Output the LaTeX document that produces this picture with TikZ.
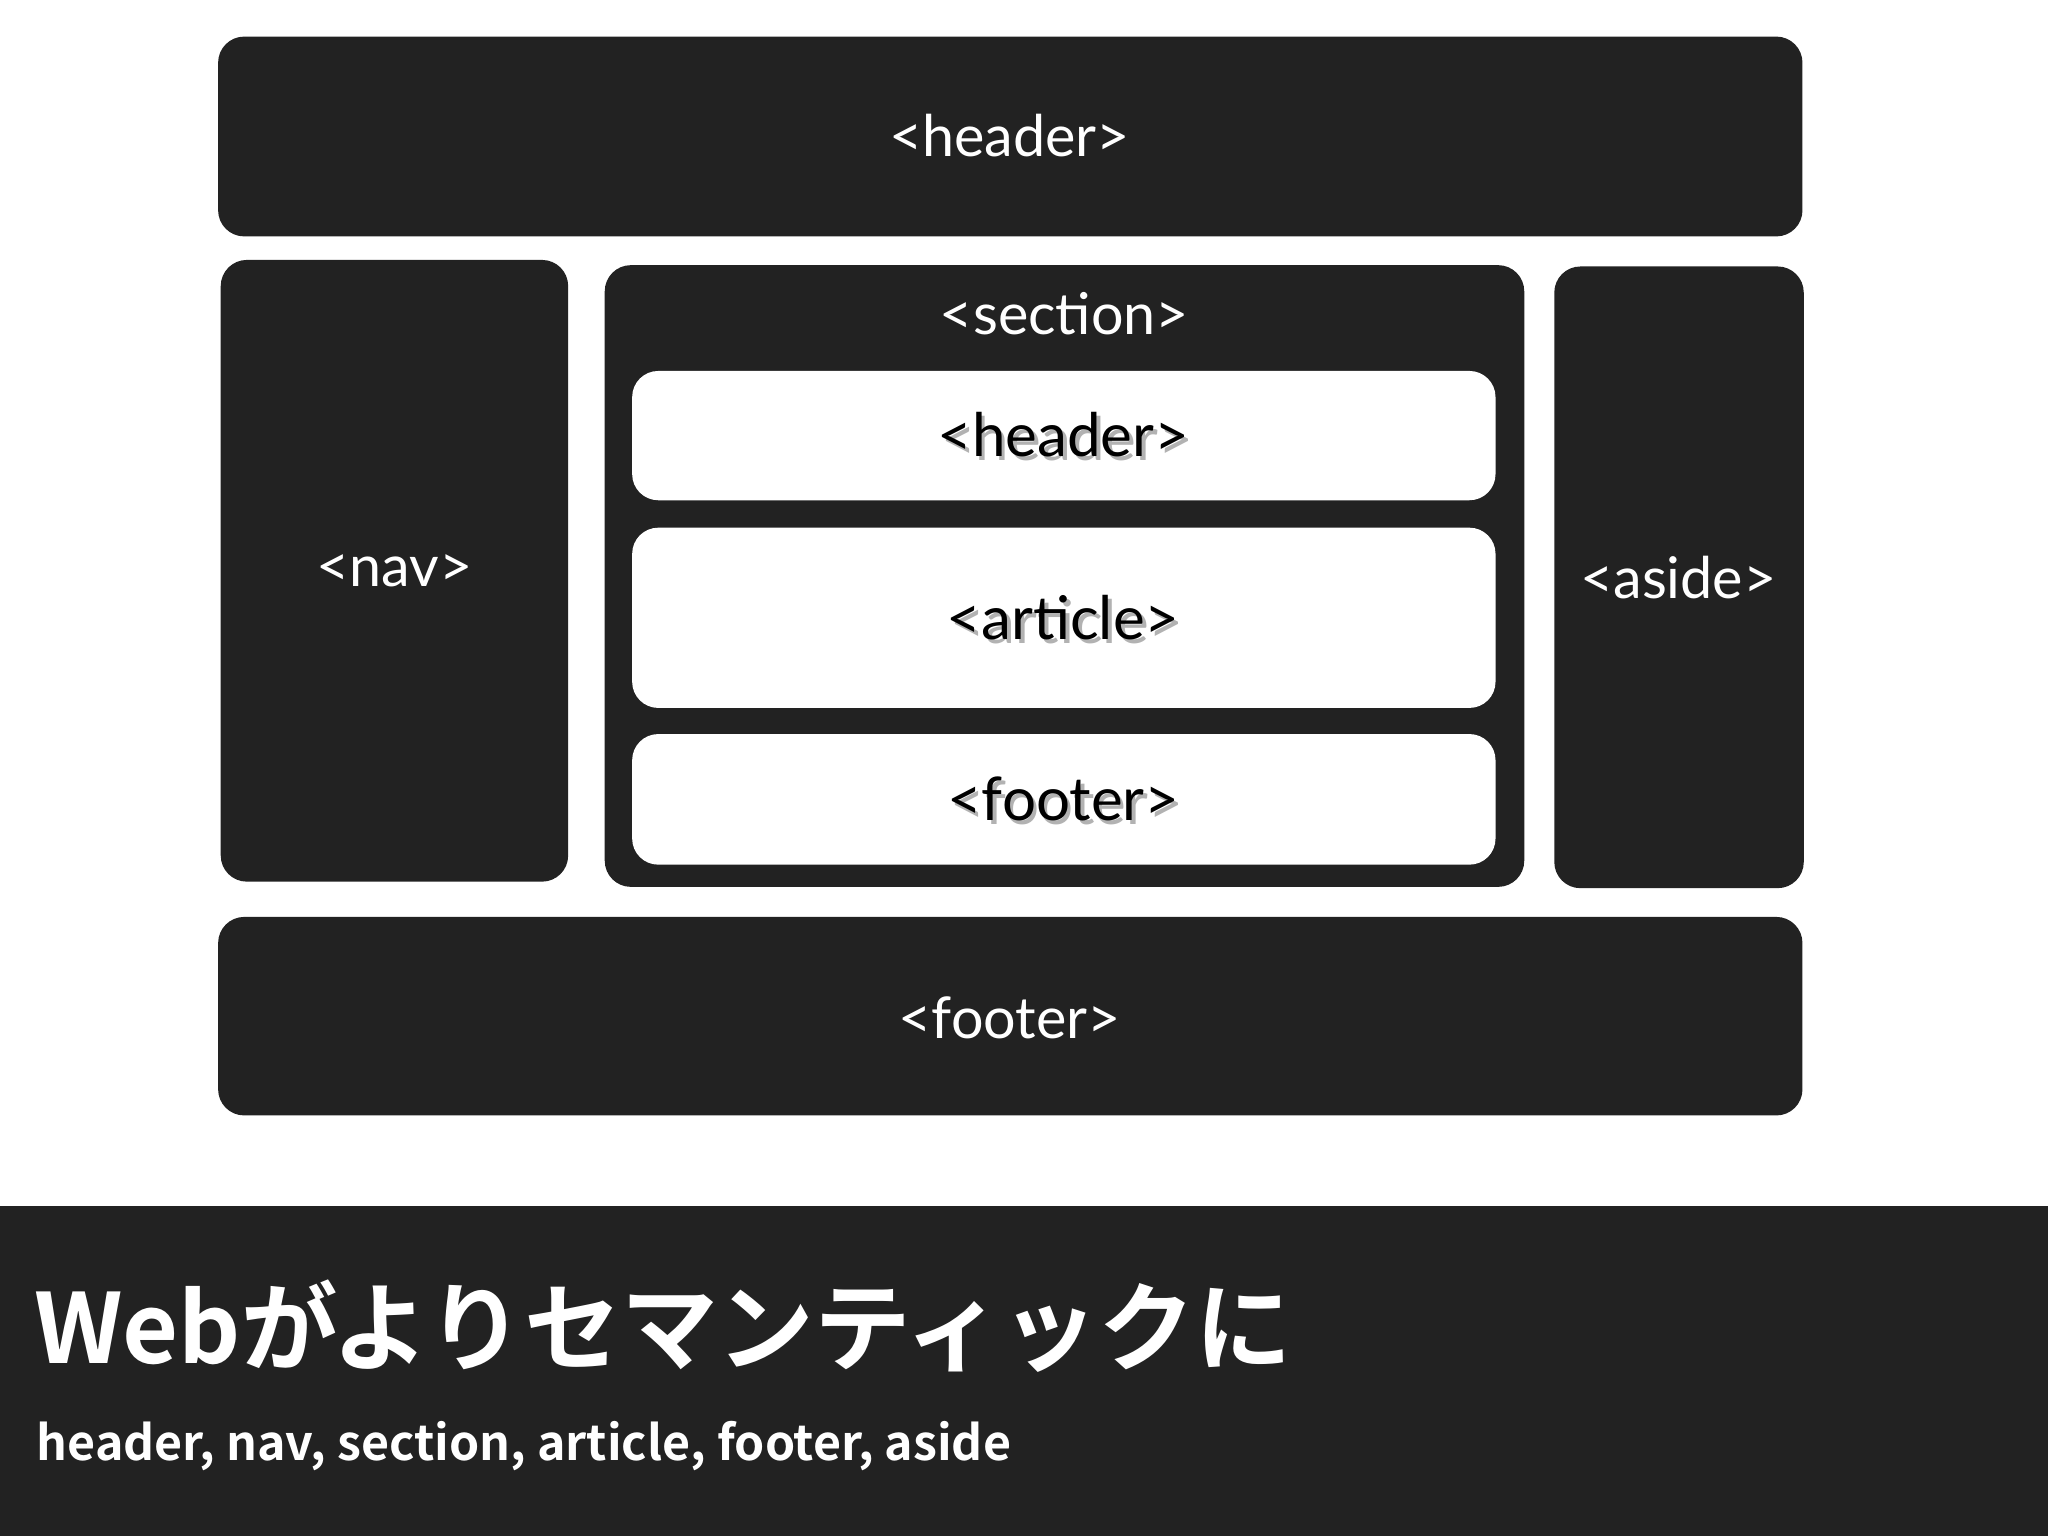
\documentclass[tikz,border=0pt]{standalone}
\usepackage{fontspec}
\setmainfont{Lato}
\newfontfamily\cjk{Noto Sans CJK JP}[BoldFont={* Bold}]
\definecolor{dk}{HTML}{222222}
\begin{document}
\begin{tikzpicture}[x=1pt,y=-1pt,
  dbox/.style={fill=dk,rounded corners=20pt},
  wbox/.style={fill=white,rounded corners=20pt},
  wl/.style={text=white,font=\fontsize{44}{50}\selectfont},
  bl/.style={text=black,font=\fontsize{46}{52}\selectfont}]
\useasboundingbox (0,0) rectangle (1568,1176);
\fill[white] (0,0) rectangle (1568,1176);
\fill[dbox] (167,28) rectangle (1380,181);
\fill[dbox] (169,199) rectangle (435,675);
\fill[dbox] (463,203) rectangle (1167,679);
\fill[wbox] (484,284) rectangle (1145,383);
\fill[wbox] (484,404) rectangle (1145,542);
\fill[wbox] (484,562) rectangle (1145,662);
\fill[dbox] (1190,204) rectangle (1381,680);
\fill[dbox] (167,702) rectangle (1380,854);
\node[wl] (h) at (773,104) {<header>};
\node[wl] (n) at (302,437) {<nav>};
\node[wl] (s) at (815,240) {<section>};
\node[wl] (a) at (1285,442) {<aside>};
\node[wl] (f) at (773,779) {<footer>};
\node[bl,text=gray!60] at (817,336) {<header>};
\node[bl] (ih) at (814,333) {<header>};
\node[bl,text=gray!60] at (817,476) {<article>};
\node[bl] (ia) at (814,473) {<article>};
\node[bl,text=gray!60] at (817,615) {<footer>};
\node[bl] (if) at (814,612) {<footer>};
\fill[dk] (0,923) rectangle (1568,1176);
\node[anchor=west,text=white,font=\cjk\bfseries\fontsize{74}{80}\selectfont,inner sep=0] (t) at (26,1015) {Webがよりセマンティックに};
\node[anchor=west,text=white,font=\cjk\bfseries\fontsize{37}{42}\selectfont,inner sep=0] (st) at (28,1107) {header, nav, section, article, footer, aside};
\end{tikzpicture}
\end{document}
